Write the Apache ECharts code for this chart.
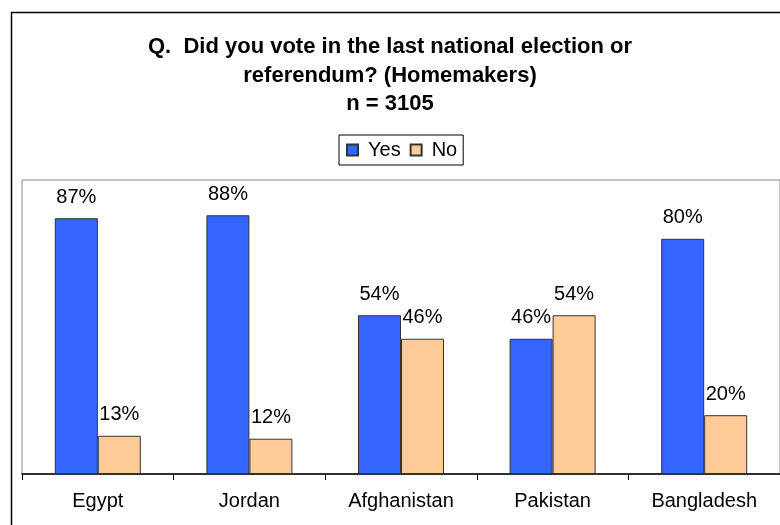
<!DOCTYPE html>
<html>
<head>
<meta charset="utf-8">
<script src="https://cdn.jsdelivr.net/npm/echarts@6/dist/echarts.min.js"></script>
<style>
html,body{margin:0;padding:0;background:#fff;}
#chart{width:780px;height:525px;}
</style>
</head>
<body>
<div id="chart"></div>
<script>
const categories = ["Egypt", "Jordan", "Afghanistan", "Pakistan", "Bangladesh"];
const yesValues = [87, 88, 54, 46, 80];
const noValues = [13, 12, 46, 54, 20];
const seriesNames = ["Yes", "No"];
const titleText = "Q.  Did you vote in the last national election or\nreferendum? (Homemakers)\nn = 3105";

const font = "Arial, 'Liberation Sans', sans-serif";
const chart = echarts.init(document.getElementById('chart'), null, {renderer: 'canvas'});
const labelCfg = {
  show: true, position: 'top', distance: 11,
  formatter: '{c}%', fontSize: 20, color: '#000', fontFamily: font
};
chart.setOption({
  animation: false,
  backgroundColor: '#fff',
  graphic: [{
    type: 'rect', silent: true, z: 0,
    shape: {x: 11.5, y: 12.5, width: 800, height: 600},
    style: {fill: 'none', stroke: '#000', lineWidth: 1.5}
  }],
  title: {
    text: titleText,
    left: 'center', top: 28,
    textStyle: {fontFamily: font, fontSize: 22, fontWeight: 'bold', color: '#000', lineHeight: 28.5}
  },
  legend: {
    data: seriesNames,
    left: 339, top: 135,
    padding: [5, 6, 5, 7],
    borderColor: '#000', borderWidth: 1,
    itemWidth: 11, itemHeight: 11, itemGap: 9,
    icon: 'rect',
    textStyle: {fontFamily: font, fontSize: 20, color: '#000', padding: [0, 0, 0, 5]}
  },
  grid: {
    left: 22, top: 180, width: 760, height: 294,
    show: true, borderColor: '#888', borderWidth: 1
  },
  xAxis: {
    type: 'category', data: categories,
    axisLine: {lineStyle: {color: '#000', width: 1.5}},
    axisTick: {show: true, length: 6, lineStyle: {color: '#000'}},
    axisLabel: {fontFamily: font, fontSize: 20, color: '#000', margin: 17}
  },
  yAxis: {
    type: 'value', min: 0, max: 100, interval: 20,
    show: false, splitLine: {show: false}
  },
  series: [
    {name: seriesNames[0], type: 'bar', data: yesValues, barWidth: 43, barGap: '0%',
     itemStyle: {color: '#3366FF', borderColor: '#333', borderWidth: 1}, label: labelCfg},
    {name: seriesNames[1], type: 'bar', data: noValues, barWidth: 43, barGap: '0%',
     itemStyle: {color: '#FFCC99', borderColor: '#333', borderWidth: 1}, label: labelCfg}
  ]
});
</script>
</body>
</html>
